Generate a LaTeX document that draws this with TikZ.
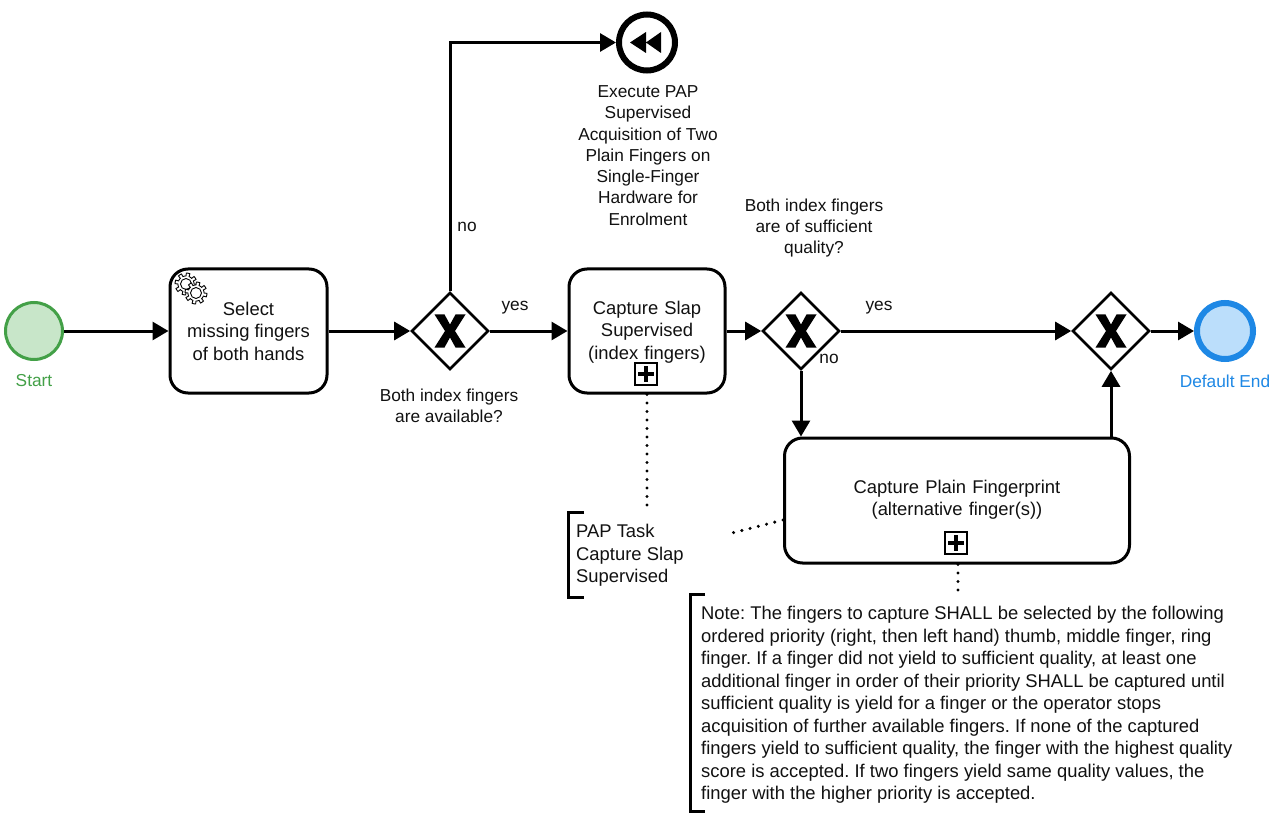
\documentclass[tikz,border=0pt]{standalone}
\usepackage{fontspec}
\setmainfont{Liberation Sans}
\usetikzlibrary{arrows.meta,shapes.geometric,calc}
\definecolor{startc}{HTML}{43A047}
\definecolor{startf}{HTML}{C8E6C9}
\definecolor{endc}{HTML}{1E88E5}
\definecolor{endf}{HTML}{BBDEFB}
\definecolor{ink}{HTML}{111111}
\frenchspacing
\tikzset{
  flow/.style={line width=3pt,draw=black,-{Triangle[length=16pt,width=18pt]}},
  dots/.style={line width=3.4pt,draw=black,line cap=round,dash pattern=on 0pt off 8.5pt},
  tasknode/.style={draw=black,line width=3pt,rounded corners=18pt,fill=white,align=center,inner sep=0pt,text=ink,font=\fontsize{18.4}{22.5}\selectfont},
  gatenode/.style={diamond,aspect=1,draw=black,line width=2.6pt,fill=white,inner sep=0pt,minimum width=77pt,minimum height=77pt},
  plain/.style={inner sep=0pt,align=center,text=ink,font=\fontsize{17.3}{21.3}\selectfont},
  note/.style={inner sep=0pt,align=left,text=ink,anchor=north west,font=\fontsize{18.4}{22.5}\selectfont},
  bracket/.style={line width=3pt,draw=black},
  gear/.pic={
    \draw[fill=white,line width=0.9pt,draw=black] plot[samples=193,domain=0:360] (\x:{9.5+1.5*(sin(8*\x)>0?1:-1)}) -- cycle;
    \draw[fill=white,line width=0.9pt] (0,0) circle (5.5);
  },
  crossmark/.pic={
    \fill[black] (-15.5,-16.5)--(-5.5,-16.5)--(0,-6.5)--(5.5,-16.5)--(15.5,-16.5)--(5,0)--(15.5,16.5)--(5.5,16.5)--(0,6.5)--(-5.5,16.5)--(-15.5,16.5)--(-5,0)--cycle;
  },
  plusmark/.pic={
    \draw[line width=1.8pt,fill=white] (-11,-11) rectangle (11,11);
    \draw[line width=3.4pt] (-8,0)--(8,0) (0,-8)--(0,8);
  }
}
\begin{document}
\begin{tikzpicture}[x=1pt,y=-1pt]
\path[use as bounding box,fill=white] (0,0) rectangle (1278,813);
% nodes
\node[circle,draw=startc,fill=startf,line width=3pt,minimum size=57pt,inner sep=0pt] (start) at (34,331) {};
\node[tasknode,minimum width=157pt,minimum height=124pt] (select) at (248.5,331) {Select\\missing fingers\\of both hands};
\node[gatenode] (gw1) at (450,331) {};
\node[tasknode,minimum width=156pt,minimum height=124pt] (slap) at (647,331) {};
\node[tasknode,text width=150pt,draw=none,fill=none,rounded corners=0pt] (slaptext) at (647,332) {Capture Slap\\Supervised\\(index fingers)};
\node[gatenode] (gw2) at (801,331) {};
\node[gatenode] (gw3) at (1111,331) {};
\node[circle,draw=endc,fill=endf,line width=6pt,minimum size=56pt,inner sep=0pt] (end) at (1225,331) {};
\node[tasknode,minimum width=345pt,minimum height=125pt] (plainfp) at (957,500.5) {};
\node[tasknode,text width=300pt,draw=none,fill=none,rounded corners=0pt] (plaintext) at (957,499.5) {Capture Plain Fingerprint\\(alternative finger(s))};
\node[circle,draw=black,fill=white,line width=6pt,minimum size=56pt,inner sep=0pt] (comp) at (647,42.5) {};
\coordinate (corner) at (gw1.north |- comp.west);
\pic at (gw1) {crossmark};
\pic at (gw2) {crossmark};
\pic at (gw3) {crossmark};
\pic at (646,374) {plusmark};
\pic at (956,543) {plusmark};
\pic at (186,284) {gear};
\pic at (196,293) {gear};
\fill[black] (630,42.5)--(646,32)--(646,53)--cycle (646,42.5)--(661,32)--(661,53)--cycle;
% flows
\draw[flow] (start) -- (select);
\draw[flow] (select) -- (gw1);
\draw[flow] (gw1) -- (slap);
\draw[flow] (slap) -- (gw2);
\draw[flow] (gw2) -- (gw3);
\draw[flow] (gw3) -- (end);
\draw[flow] (gw1.north) -- (corner) -- (comp.west);
\draw[flow] (gw2.south) -- (gw2.south |- plainfp.north);
\draw[flow] (gw3.south |- plainfp.north) -- (gw3.south);
% annotations
\node[note] (ann1) at (576,524) {PAP Task\\Capture Slap\\Supervised};
\node[note] (ann2) at (701,606) {Note: The fingers to capture SHALL be selected by the following\\ordered priority (right, then left hand) thumb, middle finger, ring\\finger. If a finger did not yield to sufficient quality, at least one\\additional finger in order of their priority SHALL be captured until\\sufficient quality is yield for a finger or the operator stops\\acquisition of further available fingers. If none of the captured\\fingers yield to sufficient quality, the finger with the highest quality\\score is accepted. If two fingers yield same quality values, the\\finger with the higher priority is accepted.};
\coordinate (b1a) at (584,512);
\coordinate (b1b) at (568,512);
\coordinate (b1c) at (568,597);
\coordinate (b1d) at (584,597);
\draw[bracket] (b1a) -- (b1b) -- (b1c) -- (b1d);
\coordinate (b2a) at (705,594);
\coordinate (b2b) at (690,594);
\coordinate (b2c) at (690,811);
\coordinate (b2d) at (705,811);
\draw[bracket] (b2a) -- (b2b) -- (b2c) -- (b2d);
\coordinate (d1) at (647,508);
\coordinate (d2) at (732,533);
\coordinate (d3) at (958,590);
\draw[dots] (slap.south) -- (d1);
\draw[dots] (plainfp.west |- 0,520) -- (d2);
\draw[dots] (plainfp.south) ++(1,0) -- (d3);
% labels
\node[plain] (lb0) at (467,227) {no};
\node[plain] (lb1) at (515,308) {yes};
\node[plain] (lb2) at (879,308) {yes};
\node[plain] (lb3) at (829,359) {no};
\node[plain] (lb4) at (449,405.5) {Both index fingers\\are available?};
\node[plain] (lb5) at (814,228) {Both index fingers\\are of sufficient\\quality?};
\node[plain] (lb6) at (648,155.5) {Execute PAP\\Supervised\\Acquisition of Two\\Plain Fingers on\\Single-Finger\\Hardware for\\Enrolment};
\node[plain,text=startc] (lb7) at (34,381) {Start};
\node[plain,text=endc] (lb8) at (1225,381) {Default End};
\end{tikzpicture}
\end{document}
